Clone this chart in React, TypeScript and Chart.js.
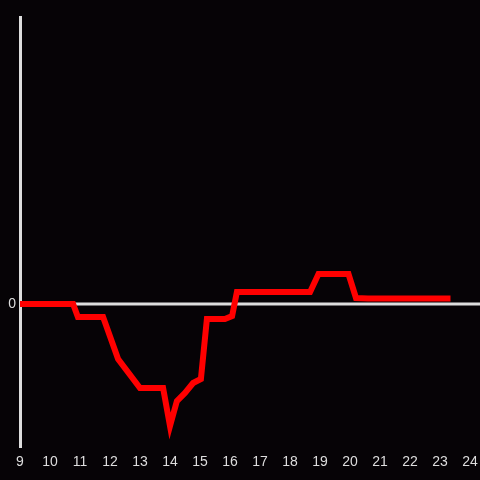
import React, { useEffect, useRef } from "react";
import { Chart, registerables } from "chart.js";

Chart.register(...registerables);

const hours = [9, 10.77, 10.93, 11.77, 12.27, 13.0, 13.77, 14.0, 14.23, 14.5, 14.77, 15.03, 15.23, 15.83, 16.07, 16.23, 18.67, 18.95, 19.95, 20.2, 20.6, 23.35];
const values = [0, 0, -1.3, -1.3, -5.5, -8.4, -8.4, -12.2, -9.7, -8.9, -7.9, -7.5, -1.5, -1.5, -1.2, 1.2, 1.2, 3.0, 3.0, 0.6, 0.55, 0.55];
const xTicks = [9, 10, 11, 12, 13, 14, 15, 16, 17, 18, 19, 20, 21, 22, 23, 24];
const yMin = -14.4;
const yMax = 28.8;

const BG = "#060306";
const AXIS = "#dddddd";

export default function App() {
  const ref = useRef<HTMLCanvasElement | null>(null);
  useEffect(() => {
    document.body.style.margin = "0";
    document.body.style.background = BG;
    const canvas = ref.current!;
    const axisPlugin = {
      id: "axisLines",
      beforeDraw(chart: any) {
        const ctx = chart.ctx;
        ctx.save();
        ctx.fillStyle = BG;
        ctx.fillRect(0, 0, chart.width, chart.height);
        ctx.restore();
      },
      beforeDatasetsDraw(chart: any) {
        const { ctx, chartArea, scales } = chart;
        const y0 = Math.round(scales.y.getPixelForValue(0));
        ctx.save();
        ctx.strokeStyle = AXIS;
        ctx.lineWidth = 3;
        ctx.beginPath();
        ctx.moveTo(chartArea.left + 0.5, chartArea.top);
        ctx.lineTo(chartArea.left + 0.5, chartArea.bottom);
        ctx.stroke();
        ctx.beginPath();
        ctx.moveTo(chartArea.left, y0);
        ctx.lineTo(chart.width, y0);
        ctx.stroke();
        ctx.restore();
      },
    };
    const chart = new Chart(canvas, {
      type: "line",
      data: {
        datasets: [
          {
            data: hours.map((h, i) => ({ x: h, y: values[i] })),
            borderColor: "#ff0000",
            borderWidth: 6,
            pointRadius: 0,
            tension: 0,
            fill: false,
            borderCapStyle: "butt",
            borderJoinStyle: "miter",
          },
        ],
      },
      options: {
        responsive: false,
        animation: false,
        layout: { padding: { top: 16, right: 10, left: 0, bottom: 0 } },
        plugins: { legend: { display: false }, tooltip: { enabled: false } },
        scales: {
          x: {
            type: "linear",
            min: 9,
            max: 24,
            afterBuildTicks: (scale: any) => {
              scale.ticks = xTicks.map((v) => ({ value: v }));
            },
            afterFit: (scale: any) => {
              scale.height = 32;
              scale.paddingLeft = 0;
              scale.paddingRight = 0;
            },
            grid: { display: false, drawTicks: false },
            border: { display: false },
            ticks: {
              color: AXIS,
              font: { family: "Liberation Sans", size: 14 },
              padding: 6,
              maxRotation: 0,
              autoSkip: false,
              callback: (v: any) => String(v),
            },
          },
          y: {
            min: yMin,
            max: yMax,
            afterBuildTicks: (scale: any) => {
              scale.ticks = [{ value: 0 }];
            },
            afterFit: (scale: any) => {
              scale.width = 20;
              scale.paddingTop = 0;
              scale.paddingBottom = 0;
            },
            grid: { display: false, drawTicks: false },
            border: { display: false },
            ticks: {
              color: AXIS,
              font: { family: "Liberation Sans", size: 14 },
              padding: 4,
              callback: (v: any) => String(v),
            },
          },
        },
      },
      plugins: [axisPlugin],
    } as any);
    return () => chart.destroy();
  }, []);
  return (
    <div style={{ width: 480, height: 480, background: BG }}>
      <canvas ref={ref} width={480} height={480} style={{ display: "block" }} />
    </div>
  );
}
